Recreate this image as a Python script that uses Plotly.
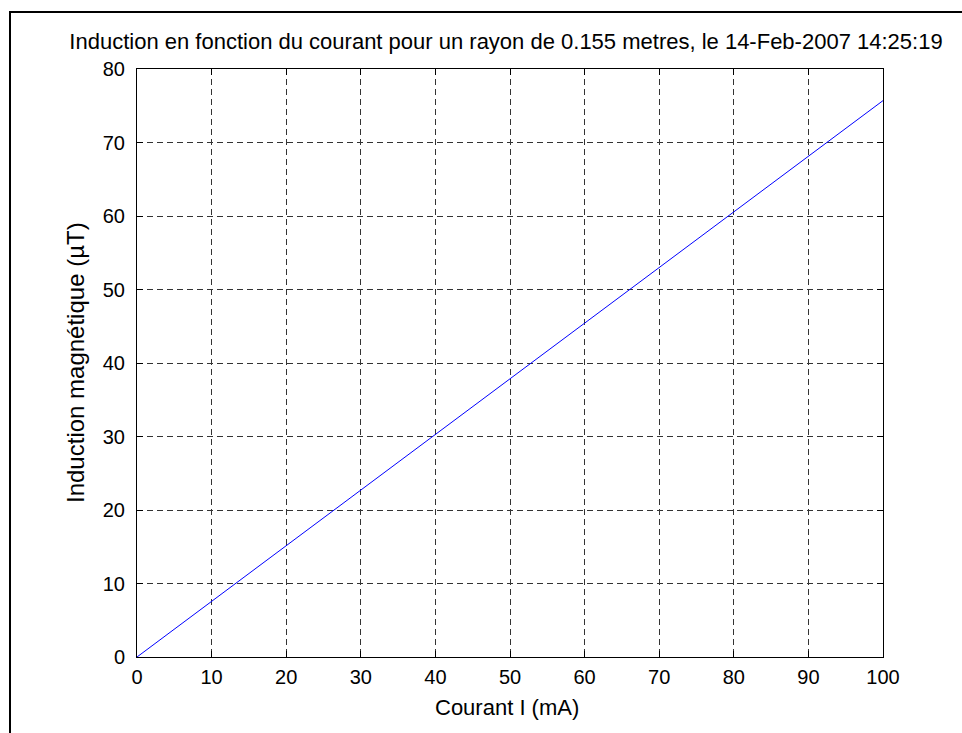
import plotly.graph_objects as go

current_ma = [0, 10, 20, 30, 40, 50, 60, 70, 80, 90, 100]
induction_ut = [0, 7.57, 15.14, 22.71, 30.28, 37.85, 45.42, 52.99, 60.56, 68.13, 75.7]
x_ticks = [0, 10, 20, 30, 40, 50, 60, 70, 80, 90, 100]
y_ticks = [0, 10, 20, 30, 40, 50, 60, 70, 80]

title_text = "Induction en fonction du courant pour un rayon de 0.155 metres, le 14-Feb-2007 14:25:19"
x_label = "Courant I (mA)"
y_label = "Induction magnétique (µT)"

W, H = 962, 733
L, R, T, B = 137, 883, 69, 657
pw, ph = R - L, B - T

fig = go.Figure()
fig.add_trace(go.Scatter(x=current_ma, y=induction_ut, mode="lines",
                         line=dict(color="#0000FF", width=1), showlegend=False))

FONT = "Liberation Sans, Arial, sans-serif"
axis_common = dict(
    showline=True, linecolor="black", linewidth=1, mirror="allticks",
    ticks="inside", ticklen=6, tickcolor="black",
    showgrid=True, gridcolor="#333333", gridwidth=1, griddash="6px,4px",
    zeroline=False, tickfont=dict(family=FONT, size=20, color="black"),
)
fig.update_xaxes(range=[0, 100], tickvals=x_ticks, ticklabelstandoff=2, **axis_common)
fig.update_yaxes(range=[0, 80], tickvals=y_ticks, ticklabelstandoff=7, **axis_common)

fig.update_layout(
    width=W, height=H,
    margin=dict(l=L, r=W - R, t=T, b=H - B),
    plot_bgcolor="white", paper_bgcolor="white",
    title=dict(text=title_text, font=dict(family=FONT, size=22, color="black"),
               x=506 / W, xanchor="center", xref="container",
               y=1 - 41 / H, yanchor="middle", yref="container"),
    annotations=[
        dict(text=x_label, xref="paper", yref="paper", x=(507 - L) / pw, y=(B - 707) / ph,
             xanchor="center", yanchor="middle", showarrow=False,
             font=dict(family=FONT, size=22, color="black")),
        dict(text=y_label, xref="paper", yref="paper", x=(75 - L) / pw, y=(B - 363) / ph,
             xanchor="center", yanchor="middle", showarrow=False, textangle=-90,
             font=dict(family=FONT, size=24, color="black")),
    ],
    shapes=[dict(type="rect", xref="paper", yref="paper",
                 x0=(10 - L) / pw, x1=1.3, y0=-0.3, y1=(B - 12) / ph,
                 line=dict(color="black", width=2), fillcolor="rgba(0,0,0,0)", layer="above")],
)
fig.write_html("out.html", config={"displayModeBar": False},
               post_script="document.body.style.margin='0';document.body.style.overflow='hidden';")
